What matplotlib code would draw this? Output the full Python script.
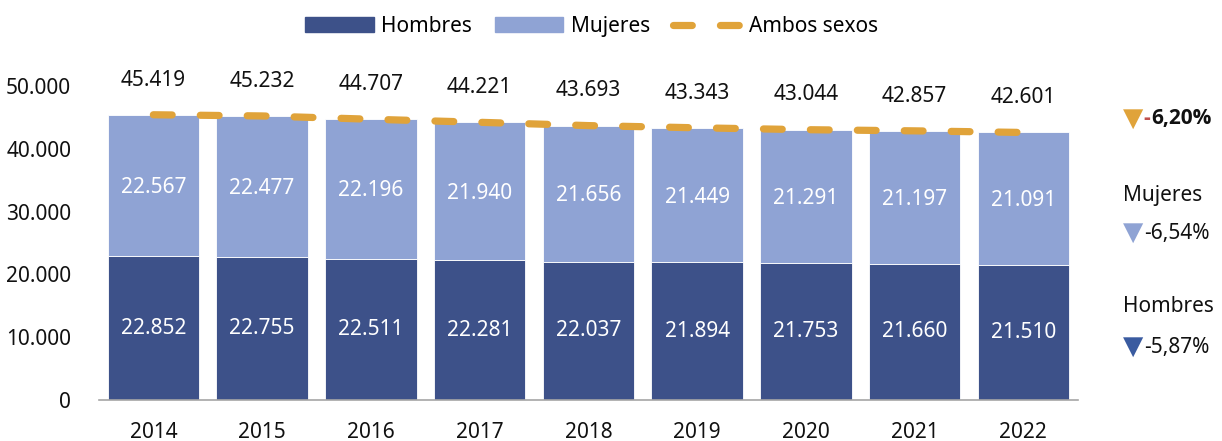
import matplotlib.pyplot as plt
import numpy as np
from matplotlib.patches import Patch
from matplotlib.lines import Line2D

plt.rcParams["font.family"] = ["Noto Sans", "DejaVu Sans"]

years = ["2014", "2015", "2016", "2017", "2018", "2019", "2020", "2021", "2022"]
hombres = [22852, 22755, 22511, 22281, 22037, 21894, 21753, 21660, 21510]
mujeres = [22567, 22477, 22196, 21940, 21656, 21449, 21291, 21197, 21091]

c_h = "#3D5189"
c_m = "#8FA3D4"
c_a = "#E0A33A"


def miles(v):
    return f"{v:,.0f}".replace(",", ".")


def pct(a, b):
    return f"{(b - a) / a * 100:.2f}%".replace(".", ",")


hombres = np.array(hombres)
mujeres = np.array(mujeres)
ambos = hombres + mujeres
x = np.arange(len(years))

fig = plt.figure(figsize=(12.22, 4.41), dpi=100)
ax = fig.add_axes([0.081, 0.093, 0.801, 0.712])

ax.bar(x, hombres, width=0.84, color=c_h, edgecolor="white", linewidth=0.6)
ax.bar(x, mujeres, width=0.84, bottom=hombres, color=c_m, edgecolor="white", linewidth=0.6)
ax.plot(x, ambos, color=c_a, lw=5.2, dashes=(2.6, 3.9), dash_capstyle="round",
        solid_capstyle="round", zorder=3)

for i in x:
    ax.text(i, hombres[i] / 2, miles(hombres[i]), ha="center", va="center",
            color="white", fontsize=15)
    ax.text(i, hombres[i] + mujeres[i] / 2 - 300, miles(mujeres[i]), ha="center",
            va="center", color="white", fontsize=15)
    ax.annotate(miles(ambos[i]), (i, ambos[i]), xytext=(0, 25), textcoords="offset points",
                ha="center", va="center", fontsize=15, color="#111111")

ax.set_xlim(-0.5, len(years) - 0.5)
ax.set_ylim(0, 50000)
ax.set_yticks(range(0, 50001, 10000))
ax.set_yticklabels([miles(v) for v in range(0, 50001, 10000)])
ax.set_xticks(x)
ax.set_xticklabels(years)
ax.tick_params(axis="both", length=0, labelsize=15, colors="#111111")
ax.tick_params(axis="x", pad=16)
ax.tick_params(axis="y", pad=20)
for s in ["top", "right", "left"]:
    ax.spines[s].set_visible(False)
ax.spines["bottom"].set_color("#A6A6A6")
ax.spines["bottom"].set_linewidth(1.2)

handles = [
    Patch(color=c_h, label="Hombres"),
    Patch(color=c_m, label="Mujeres"),
    Line2D([0], [0], color=c_a, lw=5.2, dashes=(2.6, 3.9), dash_capstyle="round",
           label="Ambos sexos"),
]
fig.legend(handles=handles, loc="center", bbox_to_anchor=(0.484, 0.94), ncol=3,
           frameon=False, fontsize=15, handlelength=3.3, handleheight=0.7,
           columnspacing=1.1, handletextpad=0.35)

# variaciones 2014-2022
tx = 0.919
fig.text(tx, 1 - 119 / 441, "▼", color=c_a, fontsize=19, va="center", ha="left",
         family="DejaVu Sans")
fig.text(tx + 0.017, 1 - 119 / 441, "-", color="#C0504D", fontsize=15, va="center",
         ha="left", weight="bold", family="Open Sans")
fig.text(tx + 0.023, 1 - 119 / 441, pct(ambos[0], ambos[-1])[1:], color="#111111",
         fontsize=15, va="center", ha="left", weight="bold", family="Open Sans")

fig.text(tx, 1 - 196 / 441, "Mujeres", fontsize=15, va="center", ha="left", color="#111111")
fig.text(tx, 1 - 233 / 441, "▼", color=c_m, fontsize=19, va="center", ha="left",
         family="DejaVu Sans")
fig.text(tx + 0.017, 1 - 233 / 441, pct(mujeres[0], mujeres[-1]), fontsize=15,
         va="center", ha="left", color="#111111")

fig.text(tx, 1 - 307 / 441, "Hombres", fontsize=15, va="center", ha="left", color="#111111")
fig.text(tx, 1 - 347 / 441, "▼", color="#3A5BA0", fontsize=19, va="center", ha="left",
         family="DejaVu Sans")
fig.text(tx + 0.017, 1 - 347 / 441, pct(hombres[0], hombres[-1]), fontsize=15,
         va="center", ha="left", color="#111111")

fig.savefig("out.png", dpi=100)
